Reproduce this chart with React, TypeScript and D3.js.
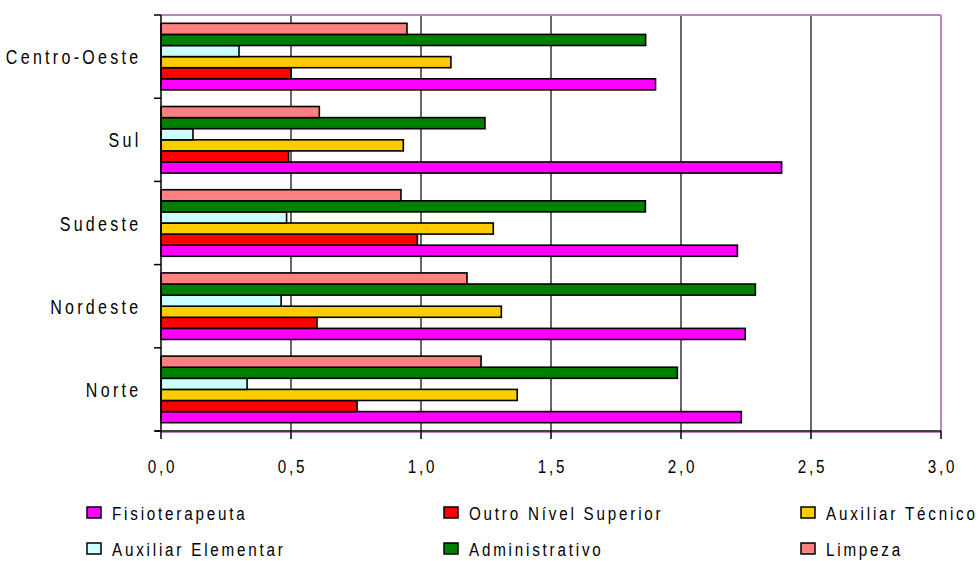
import React from "react";
import * as d3 from "d3";

const categories = ["Norte", "Nordeste", "Sudeste", "Sul", "Centro-Oeste"];
const seriesNames = [
  "Fisioterapeuta",
  "Outro Nível Superior",
  "Auxiliar Técnico",
  "Auxiliar Elementar",
  "Administrativo",
  "Limpeza",
];
const fisioterapeuta = [2.232, 2.247, 2.217, 2.387, 1.902];
const outroNivelSuperior = [0.754, 0.6, 0.986, 0.491, 0.5];
const auxiliarTecnico = [1.37, 1.309, 1.278, 0.932, 1.115];
const auxiliarElementar = [0.331, 0.462, 0.483, 0.123, 0.3];
const administrativo = [1.986, 2.286, 1.863, 1.246, 1.864];
const limpeza = [1.231, 1.177, 0.923, 0.609, 0.946];
const seriesColors = ["#FF00FF", "#FF0000", "#FFCC00", "#CCFFFF", "#008000", "#FF8080"];
const xTicks = [0, 0.5, 1, 1.5, 2, 2.5, 3];
const xTickLabels = ["0,0", "0,5", "1,0", "1,5", "2,0", "2,5", "3,0"];

const W = 979;
const H = 561;
const left = 161;
const right = 941;
const top = 15;
const bottom = 431;
const FONT = "'Liberation Sans', Arial, sans-serif";
const FS = 19;
const SX = 0.8;
const LS = 2.8;

function NText({
  x,
  y,
  anchor = "start",
  fs = FS,
  ls = LS,
  children,
}: {
  x: number;
  y: number;
  anchor?: string;
  fs?: number;
  ls?: number;
  children: React.ReactNode;
}) {
  return (
    <text
      transform={`translate(${x},${y}) scale(${SX},1)`}
      textAnchor={anchor}
      fontSize={fs}
      letterSpacing={ls / SX}
      fill="#000"
    >
      {children}
    </text>
  );
}

export default function App() {
  const values = [
    fisioterapeuta,
    outroNivelSuperior,
    auxiliarTecnico,
    auxiliarElementar,
    administrativo,
    limpeza,
  ];
  const x = d3.scaleLinear().domain([0, 3]).range([left, right]);
  const y = d3
    .scaleBand<string>()
    .domain([...categories].reverse())
    .range([top, bottom])
    .padding(0);
  const inner = d3
    .scaleBand<number>()
    .domain(d3.range(seriesNames.length).reverse())
    .range([0, y.bandwidth()])
    .paddingInner(0)
    .paddingOuter(0.75);

  const boundaries = [top, ...categories.map((c) => (y(c) as number) + y.bandwidth())];
  const legendCols = [87, 444, 801];
  const legendRows = [520, 556];

  return (
    <svg
      width={W}
      height={H}
      style={{ position: "absolute", left: 0, top: 0, background: "#fff" }}
      fontFamily={FONT}
    >
      {xTicks.slice(1, -1).map((t) => (
        <line key={"g" + t} x1={x(t)} x2={x(t)} y1={top} y2={bottom} stroke="#000" strokeWidth={1.2} />
      ))}
      <line x1={left} x2={right} y1={top} y2={top} stroke="#C080C0" strokeWidth={2} />
      <line x1={right} x2={right} y1={top} y2={bottom} stroke="#C080C0" strokeWidth={2} />
      <line x1={left} x2={right} y1={bottom + 1.5} y2={bottom + 1.5} stroke="#C080C0" strokeWidth={1} />

      {categories.map((c, ci) =>
        seriesNames.map((s, si) => {
          const y0 = (y(c) as number) + (inner(si) as number);
          return (
            <rect
              key={c + s}
              x={x(0)}
              y={y0}
              width={x(values[si][ci]) - x(0)}
              height={inner.bandwidth()}
              fill={seriesColors[si]}
              stroke="#000"
              strokeWidth={1.6}
            />
          );
        })
      )}

      <line x1={left} x2={left} y1={top} y2={bottom} stroke="#000" strokeWidth={1.5} />
      <line x1={left - 6} x2={right} y1={bottom} y2={bottom} stroke="#000" strokeWidth={1.5} />
      {boundaries.map((b, i) => (
        <line key={"lt" + i} x1={left - 7} x2={left} y1={b} y2={b} stroke="#000" strokeWidth={1.5} />
      ))}
      {xTicks.map((t) => (
        <line key={"bt" + t} x1={x(t)} x2={x(t)} y1={bottom} y2={bottom + 8} stroke="#000" strokeWidth={1.5} />
      ))}
      {xTicks.map((t, i) => (
        <NText key={"tl" + t} x={x(t) + LS / 2} y={473} anchor="middle">
          {xTickLabels[i]}
        </NText>
      ))}
      {categories.map((c) => (
        <NText
          key={"cl" + c}
          x={141.5}
          y={(y(c) as number) + y.bandwidth() / 2 + 7.5}
          anchor="end"
          fs={20}
          ls={3.3}
        >
          {c}
        </NText>
      ))}

      {seriesNames.map((s, i) => {
        const col = i % 3;
        const row = Math.floor(i / 3);
        const lx = legendCols[col];
        const ly = legendRows[row];
        return (
          <g key={"lg" + s}>
            <rect x={lx} y={ly - 13} width={14} height={11} fill={seriesColors[i]} stroke="#000" strokeWidth={1.5} />
            <NText x={lx + 25} y={ly}>
              {s}
            </NText>
          </g>
        );
      })}
    </svg>
  );
}
